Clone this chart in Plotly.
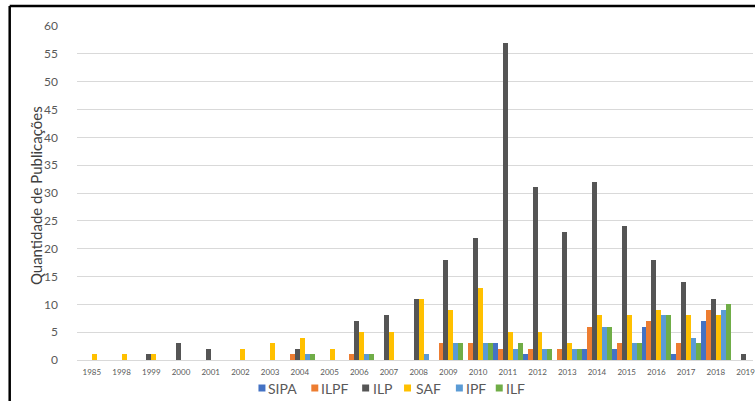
import plotly.graph_objects as go

years = ['1985', '1998', '1999', '2000', '2001', '2002', '2003', '2004', '2005', '2006',
         '2007', '2008', '2009', '2010', '2011', '2012', '2013', '2014', '2015', '2016',
         '2017', '2018', '2019']

#        85 98 99 00 01 02 03 04 05 06 07 08  09  10  11  12  13  14  15  16  17  18 19
sipa = [0, 0, 0, 0, 0, 0, 0, 0, 0, 0, 0, 0, 0, 0, 3, 1, 0, 2, 2, 6, 1, 7, 0]
ilpf = [0, 0, 0, 0, 0, 0, 0, 1, 0, 1, 0, 0, 3, 3, 2, 2, 2, 6, 3, 7, 3, 9, 0]
ilp = [0, 0, 1, 3, 2, 0, 0, 2, 0, 7, 8, 11, 18, 22, 57, 31, 23, 32, 24, 18, 14, 11, 1]
saf = [1, 1, 1, 0, 0, 2, 3, 4, 2, 5, 5, 11, 9, 13, 5, 5, 3, 8, 8, 9, 8, 8, 0]
ipf = [0, 0, 0, 0, 0, 0, 0, 1, 0, 1, 0, 1, 3, 3, 2, 2, 2, 6, 3, 8, 4, 9, 0]
ilf = [0, 0, 0, 0, 0, 0, 0, 1, 0, 1, 0, 0, 3, 3, 3, 2, 2, 6, 3, 8, 3, 10, 0]

series_names = ['SIPA', 'ILPF', 'ILP', 'SAF', 'IPF', 'ILF']
series_values = [sipa, ilpf, ilp, saf, ipf, ilf]
series_colors = ['#4472C4', '#ED7D31', '#555555', '#FFC000', '#5B9BD5', '#70AD47']

yticks = list(range(0, 61, 5))
y_title = 'Quantidade de Publicações'

FONT = 'Lato, Carlito, Calibri, sans-serif'

W, H = 755, 401
L, R, T, B = 77, 0, 26, 41
PW, PH = W - L - R, H - T - B
CAT_W = 29.8


def xp(px):
    return (px - L) / PW


def yp(py):
    return (H - B - py) / PH


fig = go.Figure()
for name, vals, col in zip(series_names, series_values, series_colors):
    fig.add_trace(go.Bar(name=name, x=years, y=vals, marker=dict(color=col, line=dict(width=0)),
                         showlegend=False))

shapes = []
annotations = []
# custom compact legend (Excel style)
leg_sq = [259, 312, 363, 405, 457, 497]
leg_tx = [267, 320, 372, 415, 465, 505]
leg_y = 388
for name, col, sx, tx in zip(series_names, series_colors, leg_sq, leg_tx):
    shapes.append(dict(type='rect', xref='paper', yref='paper',
                       x0=xp(sx), x1=xp(sx + 7), y0=yp(leg_y + 3.5), y1=yp(leg_y - 3.5),
                       fillcolor=col, line=dict(width=0)))
    annotations.append(dict(text=name, xref='paper', yref='paper', x=xp(tx), y=yp(leg_y),
                            xanchor='left', yanchor='middle', showarrow=False,
                            font=dict(family=FONT, size=14, color='#595959')))

# y-axis title
annotations.append(dict(text=y_title, xref='paper', yref='paper', x=xp(36), y=yp(196),
                        xanchor='center', yanchor='middle', textangle=-90, showarrow=False,
                        font=dict(family=FONT, size=15, color='#404040')))

# outer frame (top and left edges visible)
shapes.append(dict(type='line', xref='paper', yref='paper', x0=xp(9.5), x1=xp(760),
                   y0=yp(6), y1=yp(6), line=dict(color='black', width=2.5)))
shapes.append(dict(type='line', xref='paper', yref='paper', x0=xp(9.5), x1=xp(9.5),
                   y0=yp(6), y1=yp(405), line=dict(color='black', width=2.5)))

n_vis = PW / CAT_W
fig.update_layout(
    width=W, height=H, autosize=False,
    margin=dict(l=L, r=R, t=T, b=B, pad=0),
    paper_bgcolor='white', plot_bgcolor='white',
    barmode='group', bargap=0.0, bargroupgap=0.0,
    font=dict(family=FONT, color='#595959'),
    shapes=shapes, annotations=annotations,
    xaxis=dict(type='category', range=[-0.5, -0.5 + n_vis], showgrid=False,
               showline=False, zeroline=False, ticks='', ticklabelstandoff=6,
               tickfont=dict(size=8, color='#595959', family=FONT), tickangle=0),
    yaxis=dict(range=[0, 60], tickvals=yticks, showgrid=True, gridcolor='#D9D9D9', gridwidth=1,
               zeroline=True, zerolinecolor='#D9D9D9', zerolinewidth=1, showline=False,
               ticks='', ticklabelstandoff=18,
               tickfont=dict(size=12, color='#595959', family=FONT)),
)

fig.write_html('out.html', config={'displayModeBar': False},
               post_script="document.body.style.margin='0px';"
                           "document.body.style.overflow='hidden';")
